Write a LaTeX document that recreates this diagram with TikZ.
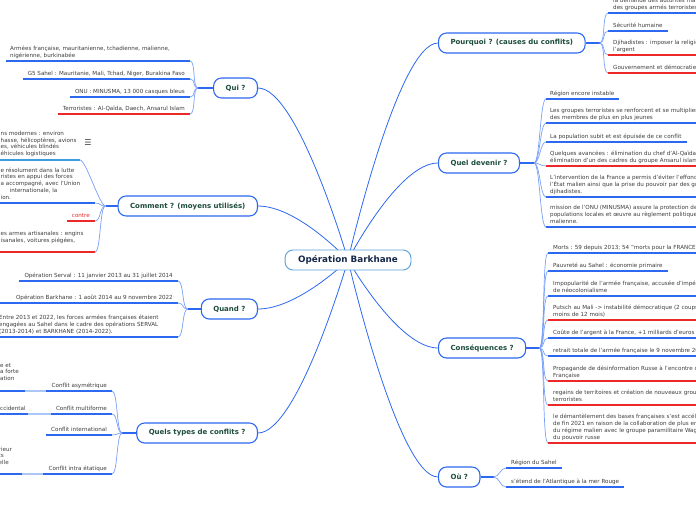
\documentclass[tikz,border=0pt]{standalone}
\usepackage{fontspec}
\setmainfont{DejaVu Sans}
\usepackage{xcolor}
\usetikzlibrary{backgrounds}
\definecolor{mapBlue}{RGB}{44,104,240}
\definecolor{twigBlue}{RGB}{120,160,246}
\definecolor{paleBlue}{RGB}{172,198,248}
\definecolor{skyBlue}{RGB}{60,156,226}
\definecolor{hubBlue}{RGB}{88,160,218}
\definecolor{mapRed}{RGB}{236,40,40}
\definecolor{topicGreen}{RGB}{28,76,58}
\definecolor{hubNavy}{RGB}{22,40,74}
\definecolor{leafGray}{RGB}{60,60,60}

\begin{document}
\begin{tikzpicture}[x=1pt, y=-1pt,
    hub/.style={draw=hubBlue, line width=0.9pt, fill=white, rounded corners=8pt, minimum height=20pt, inner xsep=13pt, text=hubNavy, font=\fontsize{8.8}{10}\selectfont\bfseries},
    topic/.style={draw=mapBlue, line width=1.1pt, fill=white, rounded corners=8pt, minimum height=20pt, inner xsep=12pt, text=topicGreen, font=\fontsize{7}{8}\selectfont\bfseries},
    leaf/.style={inner sep=0pt, text=leafGray, font=\fontsize{5.6}{6.7}\selectfont},
    leafL/.style={leaf, align=left, anchor=base west},
    leafR/.style={leaf, align=right, anchor=base east},
    link/.style={draw=mapBlue, line width=0.8pt},
    stem/.style={draw=mapBlue, line width=1.3pt},
    twig/.style={draw=twigBlue, line width=0.7pt},
    pale/.style={draw=paleBlue, line width=1.6pt},
    ulblue/.style={draw=mapBlue, line width=1.6pt},
    ulred/.style={draw=mapRed, line width=1.6pt}]
  \useasboundingbox (0,0) rectangle (696,520);
  \clip (0,0) rectangle (696,520);

  % centre and main branches
  \node[hub] (ctr) at (348,260) {Opération Barkhane};
  \node[topic, anchor=west] (pq) at (438,43) {Pourquoi ? (causes du conflits)};
  \node[topic, anchor=west] (qd) at (438,163) {Quel devenir ?};
  \node[topic, anchor=west] (cs) at (438,348) {Conséquences ?};
  \node[topic, anchor=west] (ou) at (438,477) {Où ?};
  \node[topic, anchor=east] (qui) at (258,88) {Qui ?};
  \node[topic, anchor=east] (cm) at (258,206) {Comment ? (moyens utilisés)};
  \node[topic, anchor=east] (qn) at (258,309) {Quand ?};
  \node[topic, anchor=east] (qt) at (258,433) {Quels types de conflits ?};

  \begin{scope}[on background layer]
    \foreach \t in {pq,qd,cs,ou}
      \draw[link] (ctr.center) .. controls (ctr.center) and +(-40,0) .. (\t.west);
    \foreach \t in {qui,cm,qn,qt}
      \draw[link] (ctr.center) .. controls (ctr.center) and +(40,0) .. (\t.east);
  \end{scope}

  \draw[stem] (pq.east) -- ++(14,0) coordinate (pqf);
  \draw[stem] (qd.east) -- ++(14,0) coordinate (qdf);
  \draw[stem] (cs.east) -- ++(13,0) coordinate (csf);
  \draw[stem] (ou.east) -- ++(13,0) coordinate (ouf);
  \draw[stem] (qui.west) -- ++(-15,0) coordinate (quif);
  \draw[stem] (cm.west) -- ++(-12,0) coordinate (cmf);
  \draw[stem] (qn.west) -- ++(-13,0) coordinate (qnf);
  \draw[stem] (qt.west) -- ++(-14,0) coordinate (qtf);

  % Pourquoi ?
  \node[leafL] (pq1) at (613,9) {la demande des autorités maliennes face à\\des groupes armés terroristes};
  \draw[ulblue] (608,13) coordinate (pq1u) -- (700,13);
  \node[leafL] (pq2) at (613,27) {Sécurité humaine};
  \draw[ulblue] (608,31) coordinate (pq2u) -- ([xshift=5pt,yshift=-4pt]pq2.base east);
  \node[leafL] (pq3) at (613,51) {Djihadistes : imposer la religion, le pouvoir et\\l'argent};
  \draw[ulred] (608,55) coordinate (pq3u) -- (700,55);
  \node[leafL] (pq4) at (613,69) {Gouvernement et démocratie};
  \draw[ulred] (608,73) coordinate (pq4u) -- (700,73);
  \foreach \u in {pq1u,pq2u,pq3u,pq4u}
    \draw[twig] (pqf) .. controls +(6,0) and +(-6,0) .. (\u);

  % Quel devenir ?
  \node[leafL] (qd1) at (550,95) {Région encore instable};
  \draw[ulblue] (546,99) coordinate (qd1u) -- ([xshift=5pt,yshift=-4pt]qd1.base east);
  \node[leafL] (qd2) at (550,119) {Les groupes terroristes se renforcent et se multiplient avec\\des membres de plus en plus jeunes};
  \draw[ulblue] (546,123) coordinate (qd2u) -- (700,123);
  \node[leafL] (qd3) at (550,138) {La population subit et est épuisée de ce conflit};
  \draw[ulblue] (546,142) coordinate (qd3u) -- ([xshift=5pt,yshift=-4pt]qd3.base east);
  \node[leafL] (qd4) at (550,162) {Quelques avancées : élimination du chef d'Al-Qaïda, Abdelmalek Droukdel,\\élimination d'un des cadres du groupe Ansarul islam};
  \draw[ulred] (546,166) coordinate (qd4u) -- (700,166);
  \node[leafL] (qd5) at (550,193) {L'intervention de la France a permis d'éviter l'effondrement de\\l'État malien ainsi que la prise du pouvoir par des groupes\\djihadistes.};
  \draw[ulblue] (546,197) coordinate (qd5u) -- (700,197);
  \node[leafL] (qd6) at (550,223) {mission de l'ONU (MINUSMA) assure la protection des\\populations locales et œuvre au règlement politique de la crise\\malienne.};
  \draw[ulblue] (546,227) coordinate (qd6u) -- (700,227);
  \foreach \u in {qd1u,qd2u,qd3u,qd4u,qd5u,qd6u}
    \draw[twig] (qdf) .. controls +(6,0) and +(-6,0) .. (\u);

  % Conséquences ?
  \node[leafL] (cs1) at (553,249) {Morts : 59 depuis 2013; 54 "morts pour la FRANCE"};
  \draw[ulblue] (548,253) coordinate (cs1u) -- (700,253);
  \node[leafL] (cs2) at (553,267) {Pauvreté au Sahel : économie primaire};
  \draw[ulblue] (548,271) coordinate (cs2u) -- ([xshift=5pt,yshift=-4pt]cs2.base east);
  \node[leafL] (cs3) at (553,292) {Impopularité de l'armée française, accusée d'impérialisme et\\de néocolonialisme};
  \draw[ulblue] (548,296) coordinate (cs3u) -- (700,296);
  \node[leafL] (cs4) at (553,316) {Putsch au Mali -> instabilité démocratique (2 coups d'État en\\moins de 12 mois)};
  \draw[ulred] (548,320) coordinate (cs4u) -- (700,320);
  \node[leafL] (cs5) at (553,334) {Coûte de l'argent à la France, +1 milliards d'euros par an};
  \draw[ulblue] (548,338) coordinate (cs5u) -- (700,338);
  \node[leafL] (cs6) at (553,352) {retrait totale de l'armée française le 9 novembre 2022};
  \draw[ulblue] (548,356) coordinate (cs6u) -- (700,356);
  \node[leafL] (cs7) at (553,377) {Propagande de désinformation Russe à l'encontre de l'armée\\Française};
  \draw[ulred] (548,381) coordinate (cs7u) -- (700,381);
  \node[leafL] (cs8) at (553,401) {regains de territoires et création de nouveaux groupes\\terroristes};
  \draw[ulred] (548,405) coordinate (cs8u) -- (700,405);
  \node[leafL] (cs9) at (553,439) {le démantèlement des bases françaises s'est accéléré à partir\\de fin 2021 en raison de la collaboration de plus en plus étroite\\du régime malien avec le groupe paramilitaire Wagner, bras armé\\du pouvoir russe};
  \draw[ulred] (548,443) coordinate (cs9u) -- (700,443);
  \foreach \u in {cs1u,cs2u,cs3u,cs4u,cs5u,cs6u,cs7u,cs8u,cs9u}
    \draw[twig] (csf) .. controls +(6,0) and +(-6,0) .. (\u);

  % Où ?
  \node[leafL] (ou1) at (511,464) {Région du Sahel};
  \draw[ulblue] (506,468) coordinate (ou1u) -- ([xshift=5pt,yshift=-4pt]ou1.base east);
  \node[leafL] (ou2) at (511,483) {s'étend de l'Atlantique à la mer Rouge};
  \draw[ulblue] (506,487) coordinate (ou2u) -- ([xshift=5pt,yshift=-4pt]ou2.base east);
  \foreach \u in {ou1u,ou2u}
    \draw[twig] (ouf) .. controls +(6,0) and +(-6,0) .. (\u);

  % Qui ?
  \node[leafL] (qu1) at (10,57) {Armées française, mauritanienne, tchadienne, malienne,\\nigérienne, burkinabée};
  \draw[ulblue] (6,61) -- (190,61) coordinate (qu1u);
  \node[leafR] (qu2) at (185,75) {G5 Sahel : Mauritanie, Mali, Tchad, Niger, Burakina Faso};
  \draw[ulblue] ([xshift=-5pt,yshift=-4pt]qu2.base west) -- (190,79) coordinate (qu2u);
  \node[leafR] (qu3) at (185,93) {ONU : MINUSMA, 13 000 casques bleus};
  \draw[ulblue] ([xshift=-5pt,yshift=-4pt]qu3.base west) -- (190,97) coordinate (qu3u);
  \node[leafR] (qu4) at (185,110) {Terroristes : Al-Qaïda, Daech, Ansarul Islam};
  \draw[ulred] ([xshift=-5pt,yshift=-4pt]qu4.base west) -- (190,114) coordinate (qu4u);
  \foreach \u in {qu1u,qu2u,qu3u,qu4u}
    \draw[twig] (quif) .. controls +(-6,0) and +(6,0) .. (\u);

  % Comment ?
  \node[leafL] (cm1) at (0.5,155.5) {ns modernes : environ\\hasse, hélicoptères, avions\\es, véhicules blindés\\éhicules logistiques};
  \node[text=leafGray, font=\fontsize{8}{8}\selectfont, inner sep=0pt] (cm1n) at (88,143) {☰};
  \draw[draw=skyBlue, line width=1.6pt] (-5,160) -- (80,160) coordinate (cm1u);
  \node[leafL] (cm2) at (0.5,199) {e résolument dans la lutte\\ristes en appui des forces\\a accompagné, avec l'Union\\\hspace*{9pt}internationale, la\\ion.};
  \draw[ulblue] (-5,203) -- (95,203) coordinate (cm2u);
  \node[leafR, text=mapRed] (cm3) at (90,217) {contre};
  \draw[ulred] ([xshift=-5pt,yshift=-4pt]cm3.base west) -- (95,221) coordinate (cm3u);
  \node[leafL] (cm4) at (0.5,242.5) {es armes artisanales : engins\\isanales, voitures piégées,};
  \draw[ulred] (-5,252) -- (95,252) coordinate (cm4u);
  \foreach \u in {cm1u,cm2u,cm3u,cm4u}
    \draw[twig] (cmf) .. controls +(-6,0) and +(6,0) .. (\u);

  % Quand ?
  \node[leafR] (qn1) at (173,277) {Opération Serval : 11 janvier 2013 au 31 juillet 2014};
  \draw[ulblue] ([xshift=-5pt,yshift=-4pt]qn1.base west) -- (178,281) coordinate (qn1u);
  \node[leafR] (qn2) at (173,299) {Opération Barkhane : 1 août 2014 au 9 novembre 2022};
  \draw[ulblue] (-5,303) -- (178,303) coordinate (qn2u);
  \node[leafL] (qn3) at (-1,333) {Entre 2013 et 2022, les forces armées françaises étaient\\engagées au Sahel dans le cadre des opérations SERVAL\\(2013-2014) et BARKHANE (2014-2022).};
  \draw[ulblue] (-5,337) -- (178,337) coordinate (qn3u);
  \foreach \u in {qn1u,qn2u,qn3u}
    \draw[twig] (qnf) .. controls +(-6,0) and +(6,0) .. (\u);

  % Quels types de conflits ?
  \node[leafR] (qt1) at (107,387) {Conflit asymétrique};
  \draw[ulblue] ([xshift=-5pt,yshift=-4pt]qt1.base west) coordinate (qt1s) -- (112,391) coordinate (qt1u);
  \node[leafL] (qt1a) at (0,380.4) {e et\\a forte\\ation};
  \draw[ulblue] (-5,391) -- (25,391) coordinate (qt1b);
  \draw[pale] (qt1b) -- (qt1s);
  \node[leafR] (qt2) at (107,410) {Conflit multiforme};
  \draw[ulblue] ([xshift=-5pt,yshift=-4pt]qt2.base west) coordinate (qt2s) -- (112,414) coordinate (qt2u);
  \node[leafL] (qt2a) at (0,410) {ccidental};
  \draw[ulblue] (-5,414) -- (28,414) coordinate (qt2b);
  \draw[pale] (qt2b) -- (qt2s);
  \node[leafR] (qt3) at (107,431) {Conflit international};
  \draw[ulblue] ([xshift=-5pt,yshift=-4pt]qt3.base west) -- (112,435) coordinate (qt3u);
  \node[leafR] (qt4) at (107,470) {Conflit intra étatique};
  \draw[ulblue] ([xshift=-5pt,yshift=-4pt]qt4.base west) coordinate (qt4s) -- (112,474) coordinate (qt4u);
  \node[leafL] (qt4a) at (-1.5,464.4) {rieur\\ts\\elle};
  \draw[ulblue] (-5,474) -- (22,474) coordinate (qt4b);
  \draw[pale] (qt4b) -- (qt4s);
  \foreach \u in {qt1u,qt2u,qt3u,qt4u}
    \draw[twig] (qtf) .. controls +(-6,0) and +(6,0) .. (\u);
\end{tikzpicture}
\end{document}
